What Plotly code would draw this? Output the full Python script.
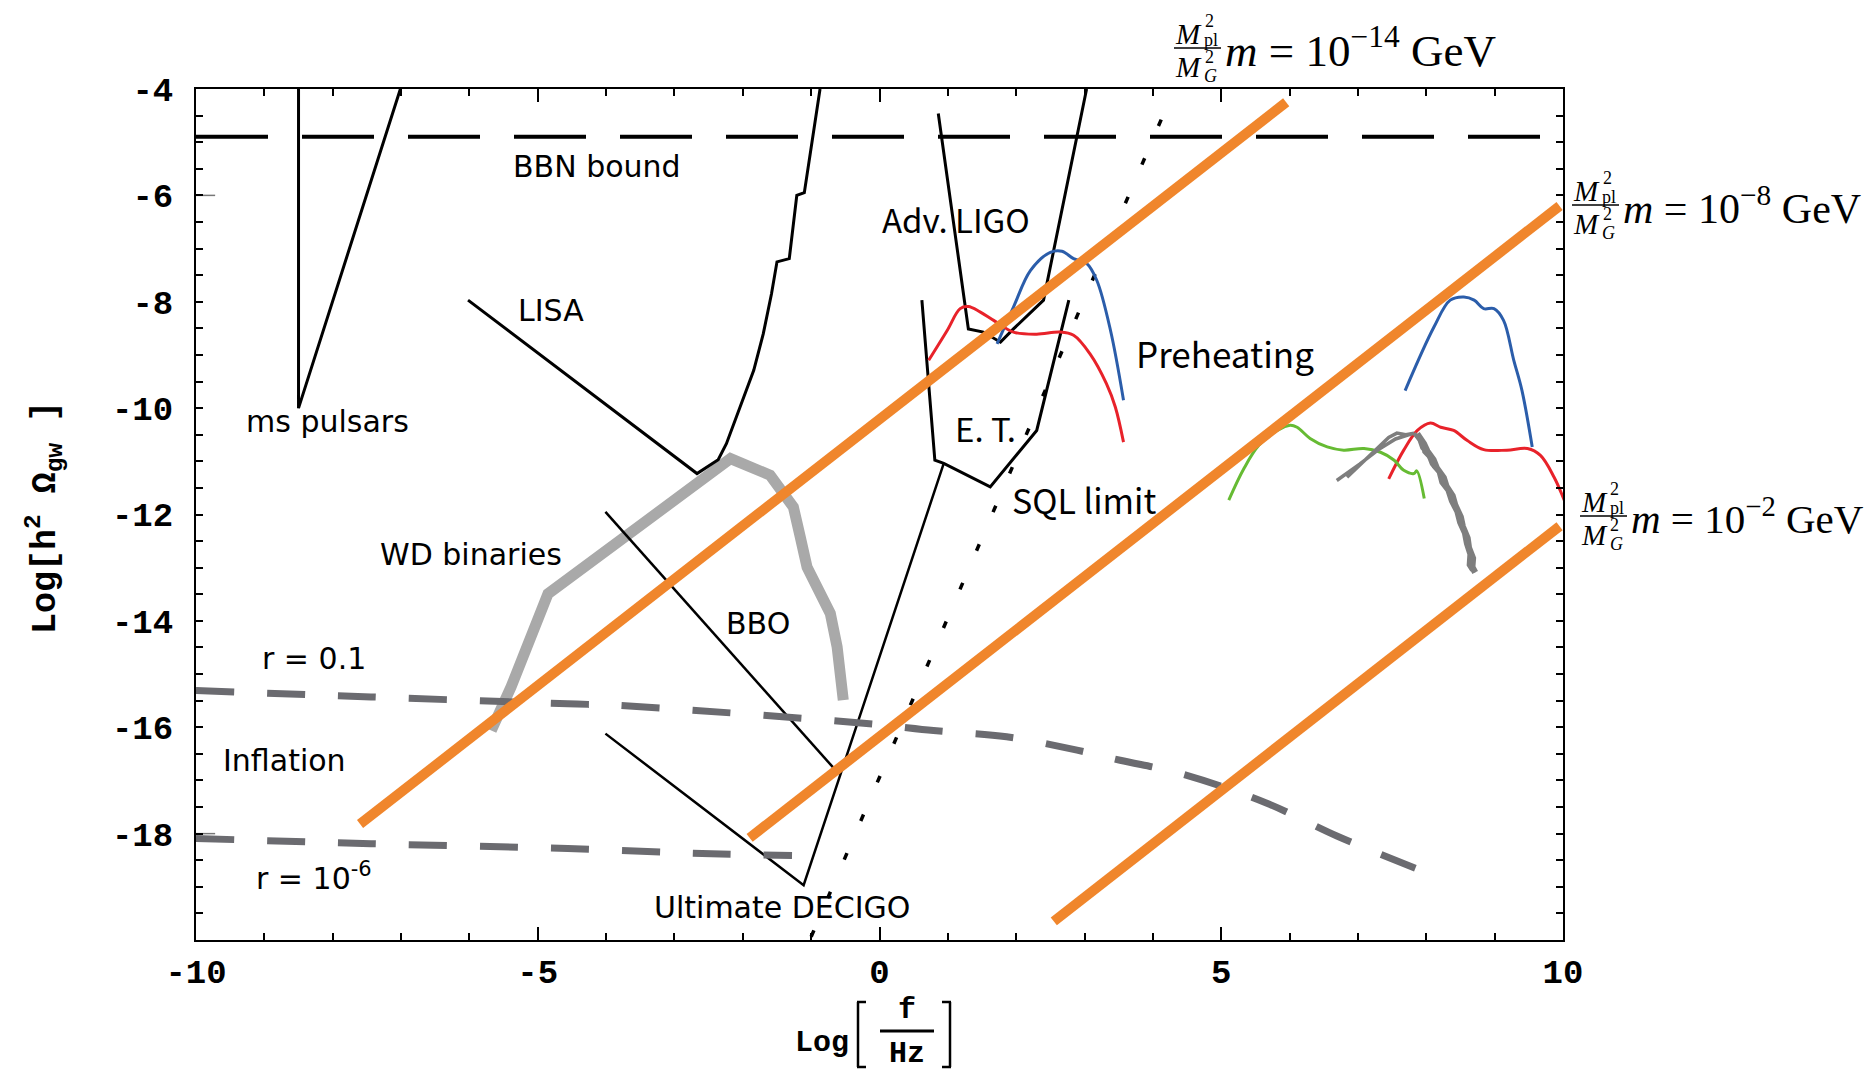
import plotly.graph_objects as go

# ---------------- data ----------------
x_ticks = [-10, -5, 0, 5, 10]
x_ticklabels = ['-10', '-5', '0', '5', '10']
y_ticks = [-4, -6, -8, -10, -12, -14, -16, -18]
y_ticklabels = ['-4', '-6', '-8', '-10', '-12', '-14', '-16', '-18']

bbn_x = [-10, 10]
bbn_y = [-4.9, -4.9]

pulsar_x = [-8.5, -8.5, -7.01]
pulsar_y = [-3.9, -10.0, -4.0]

lisa_x = [-6.02, -2.67, -2.36, -2.24, -2.04, -1.84, -1.70, -1.58, -1.50, -1.32, -1.21, -1.10, -0.87]
lisa_y = [-7.97, -11.23, -10.97, -10.67, -9.98, -9.29, -8.60, -7.85, -7.25, -7.19, -6.00, -5.95, -4.00]

aligo_x = [0.86, 1.30, 1.52, 1.77, 1.96, 2.40, 3.03]
aligo_y = [-4.46, -8.51, -8.57, -8.76, -8.51, -7.97, -4.00]

et_x = [0.62, 0.81, 0.94, 1.62, 2.30, 2.77]
et_y = [-7.97, -10.98, -11.04, -11.48, -10.42, -7.97]

decigo_x = [-4.01, -1.11, 0.94]
decigo_y = [-16.12, -18.97, -11.04]

bbo_x = [-4.01, -0.62]
bbo_y = [-11.95, -16.84]

sql_x = [-1.0, 4.33]
sql_y = [-19.94, -3.95]

wd_x = [-5.68, -5.39, -4.85, -3.73, -2.62, -2.18, -1.60, -1.26, -1.16, -1.06, -0.72, -0.62, -0.53]
wd_y = [-16.06, -15.24, -13.49, -12.45, -11.42, -10.95, -11.26, -11.86, -12.42, -12.99, -13.86, -14.49, -15.49]

infl_r01_x = [-10.0, -7.44, -4.56, -3.82, -0.19, 0.79, 1.86, 2.89, 3.52, 4.43, 5.65, 6.70, 7.84]
infl_r01_y = [-15.31, -15.43, -15.56, -15.59, -15.93, -16.06, -16.18, -16.43, -16.62, -16.88, -17.42, -18.05, -18.65]

infl_r6_x = [-10.0, -7.44, -4.56, -2.46, -1.28]
infl_r6_y = [-18.09, -18.19, -18.28, -18.38, -18.41]

blue1_x = [1.72, 1.96, 2.21, 2.50, 2.67, 2.84, 3.03, 3.18, 3.38, 3.57]
blue1_y = [-8.79, -8.10, -7.41, -7.07, -7.05, -7.19, -7.28, -7.60, -8.54, -9.85]

red1_x = [0.72, 0.99, 1.18, 1.30, 1.47, 1.67, 1.96, 2.30, 2.64, 2.84, 3.08, 3.32, 3.45, 3.57]
red1_y = [-9.10, -8.54, -8.13, -8.09, -8.19, -8.35, -8.57, -8.61, -8.57, -8.63, -8.98, -9.54, -9.98, -10.64]

blue2_x = [7.69, 8.11, 8.35, 8.55, 8.70, 8.84, 8.99, 9.13, 9.28, 9.40, 9.55]
blue2_y = [-9.67, -8.48, -7.97, -7.91, -7.97, -8.13, -8.13, -8.35, -9.10, -9.67, -10.73]

red2_x = [7.45, 7.67, 7.87, 8.06, 8.21, 8.40, 8.60, 8.84, 9.18, 9.48, 9.67, 9.87, 10.04]
red2_y = [-11.33, -10.79, -10.42, -10.28, -10.36, -10.42, -10.61, -10.78, -10.79, -10.76, -10.89, -11.30, -11.80]

green_x = [5.11, 5.33, 5.55, 5.82, 6.01, 6.11, 6.30, 6.55, 6.79, 7.09, 7.33, 7.53, 7.67, 7.82, 7.86, 7.97]
green_y = [-11.73, -11.14, -10.70, -10.42, -10.32, -10.36, -10.57, -10.73, -10.79, -10.76, -10.83, -10.98, -11.17, -11.23, -11.18, -11.70]

gray_loop_x = [6.84, 7.10, 7.45, 7.57, 7.70, 7.82, 7.55, 7.30, 7.03, 6.69]
gray_loop_y = [-11.30, -10.98, -10.55, -10.47, -10.50, -10.47, -10.58, -10.78, -11.05, -11.36]

gray_d1_x = [7.82, 7.90, 7.94, 8.03, 8.08, 8.18, 8.22, 8.31, 8.36, 8.44, 8.48, 8.55, 8.58, 8.63, 8.62, 8.67]
gray_d1_y = [-10.47, -10.60, -10.75, -10.88, -11.05, -11.20, -11.40, -11.55, -11.75, -11.95, -12.15, -12.35, -12.55, -12.75, -12.95, -13.05]
gray_d2_x = [7.88, 7.98, 8.03, 8.12, 8.17, 8.27, 8.31, 8.40, 8.44, 8.52, 8.55, 8.62, 8.64, 8.70, 8.69, 8.73]
gray_d2_y = [-10.47, -10.66, -10.80, -10.96, -11.12, -11.30, -11.46, -11.64, -11.82, -12.04, -12.22, -12.44, -12.62, -12.82, -12.98, -13.08]
gray_d3_x = [7.85, 7.96, 7.97, 8.09, 8.11, 8.24, 8.25, 8.37, 8.39, 8.49, 8.50, 8.59, 8.60, 8.67, 8.64, 8.70]
gray_d3_y = [-10.50, -10.70, -10.82, -10.98, -11.10, -11.28, -11.43, -11.62, -11.78, -12.00, -12.18, -12.40, -12.58, -12.80, -12.96, -13.10]

stray_x = [-10.0, -9.72]
stray_y = [[-6.0, -6.0], [-18.0, -18.0]]

orange_x = [[-7.60, 5.95], [-1.90, 9.95], [2.55, 9.95]]
orange_y = [[-17.82, -4.25], [-18.08, -6.20], [-19.65, -12.22]]
mass_exps = ['-14', '-8', '-2']

# ---------------- figure ----------------
OFF = 8  # page body margin of the html page
W, H = 1872, 1088
PW, PH = 1367, 851
L, T = 196 - OFF, 89 - OFF
R, B = W - L - PW, H - T - PH


def pp(fx, fy):
    """screen pixel position -> paper coords"""
    return (fx - OFF - L) / PW, (H - B - (fy - OFF)) / PH


fig = go.Figure()


def add_line(x, y, color, width, dash='solid', shape='linear'):
    fig.add_trace(go.Scatter(x=x, y=y, mode='lines',
                             line=dict(color=color, width=width, dash=dash, shape=shape),
                             hoverinfo='skip', showlegend=False))


# WD binaries (thick light gray)
add_line(wd_x, wd_y, '#A9A9A9', 11)
# detectors
add_line(bbn_x, bbn_y, 'black', 4, dash='72px,34px')
add_line(pulsar_x, pulsar_y, 'black', 3)
add_line(lisa_x, lisa_y, 'black', 3)
add_line(aligo_x, aligo_y, 'black', 3)
add_line(et_x, et_y, 'black', 3)
add_line(decigo_x, decigo_y, 'black', 2.5)
add_line(bbo_x, bbo_y, 'black', 2.5)
add_line(sql_x, sql_y, 'black', 3.5, dash='7px,35px')
for sy in stray_y:
    add_line(stray_x, sy, '#777777', 1.5)
# inflation
add_line(infl_r01_x, infl_r01_y, '#6B6B70', 7, dash='38px,33px', shape='spline')
add_line(infl_r6_x, infl_r6_y, '#6B6B70', 7, dash='38px,33px', shape='spline')
# preheating
add_line(blue1_x, blue1_y, '#2B5DAA', 3, shape='spline')
add_line(red1_x, red1_y, '#E8222A', 3, shape='spline')
add_line(blue2_x, blue2_y, '#2B5DAA', 3, shape='spline')
add_line(red2_x, red2_y, '#E8222A', 3, shape='spline')
add_line(green_x, green_y, '#66BB33', 3, shape='spline')
add_line(gray_loop_x, gray_loop_y, '#7E7E7E', 3.5)
add_line(gray_d1_x, gray_d1_y, '#7E7E7E', 4)
add_line(gray_d2_x, gray_d2_y, '#7E7E7E', 4)
add_line(gray_d3_x, gray_d3_y, '#7E7E7E', 4)
# massive graviton lines
for ox, oy in zip(orange_x, orange_y):
    add_line(ox, oy, '#F0862C', 10)

annotations = []
shapes = []

dj = 'DejaVu Sans'
nj = 'Noto Sans CJK JP'
labels = [
    ('BBN bound', -4.13, -5.46, dj, 30),
    ('LISA', -4.80, -8.16, dj, 30),
    ('ms pulsars', -8.07, -10.25, dj, 30),
    ('WD binaries', -5.98, -12.75, dj, 30),
    ('BBO', -1.78, -14.04, dj, 30),
    ('r = 0.1', -8.27, -14.71, dj, 30),
    ('Inflation', -8.70, -16.62, dj, 30),
    ('r = 10<sup>-6</sup>', -8.27, -18.80, dj, 30),
    ('Ultimate DECIGO', -1.42, -19.38, dj, 30),
    ('Adv. LIGO', 1.12, -6.45, nj, 33),
    ('E. T.', 1.55, -10.37, nj, 33),
    ('SQL limit', 2.99, -11.72, nj, 34),
    ('Preheating', 5.06, -8.95, nj, 35),
]
for txt, lx, ly, fam, sz in labels:
    annotations.append(dict(x=lx, y=ly, xref='x', yref='y', text=txt, showarrow=False,
                            xanchor='center', yanchor='middle',
                            font=dict(family=fam, size=sz, color='black')))

# mass labels: (bar left px, bar y px, main font size)
serif = 'Liberation Serif'
mass_pos = [(1174, 48, 45), (1572, 205, 42), (1580, 516, 41)]


def A(fx, fy, text, size, anchor='center'):
    xp, yp = pp(fx, fy)
    annotations.append(dict(x=xp, y=yp, xref='paper', yref='paper', text=text,
                            showarrow=False, xanchor=anchor, yanchor='middle',
                            font=dict(family=serif, size=size, color='black')))


for (bx, by, msz), ex in zip(mass_pos, mass_exps):
    A(bx + 14, by - 14, '<i>M</i>', 29)
    A(bx + 35, by - 27, '2', 18)
    A(bx + 37, by - 8, 'pl', 18)
    A(bx + 14, by + 19, '<i>M</i>', 29)
    A(bx + 35, by + 9, '2', 18)
    A(bx + 36, by + 28, '<i>G</i>', 18)
    x0p, yb = pp(bx, by)
    x1p, _ = pp(bx + 47, by)
    shapes.append(dict(type='line', xref='paper', yref='paper', x0=x0p, x1=x1p, y0=yb, y1=yb,
                       line=dict(color='black', width=1.5)))
    A(bx + 49, by, '<i>m</i> = 10<sup>' + ex.replace('-', '−') + '</sup> GeV', msz, anchor='left')

# axis titles
mono = 'Liberation Mono'
xp, yp = pp(44, 518)
annotations.append(dict(x=xp, y=yp, xref='paper', yref='paper', textangle=-90,
                        text='Log[h<sup>2</sup> Ω<sub>gw</sub> ]', showarrow=False,
                        xanchor='center', yanchor='middle',
                        font=dict(family=mono, size=35, color='black', weight='bold')))


def M(fx, fy, text, size, weight='bold'):
    a, b = pp(fx, fy)
    annotations.append(dict(x=a, y=b, xref='paper', yref='paper', text=text, showarrow=False,
                            xanchor='center', yanchor='middle',
                            font=dict(family=mono, size=size, color='black', weight=weight)))


def seg(x0, y0, x1, y1, width):
    a0, b0 = pp(x0, y0)
    a1, b1 = pp(x1, y1)
    shapes.append(dict(type='line', xref='paper', yref='paper', x0=a0, x1=a1, y0=b0, y1=b1,
                       line=dict(color='black', width=width)))


M(822, 1043, 'Log', 30)
M(907, 1010, 'f', 30)
M(907, 1054, 'Hz', 30)
# fraction bar
seg(880, 1031, 934, 1031, 3)
# stretched brackets [ ]
seg(858, 1002, 858, 1067, 2.5)
seg(857, 1002, 866, 1002, 2.5)
seg(857, 1067, 866, 1067, 2.5)
seg(950, 1002, 950, 1067, 2.5)
seg(942, 1002, 951, 1002, 2.5)
seg(942, 1067, 951, 1067, 2.5)

tickfont = dict(family=mono, size=34, color='black', weight='bold')
fig.update_layout(
    width=W, height=H,
    margin=dict(l=L, r=R, t=T, b=B),
    paper_bgcolor='white', plot_bgcolor='white',
    showlegend=False,
    annotations=annotations, shapes=shapes,
    xaxis=dict(range=[-10, 10], tickvals=x_ticks, ticktext=x_ticklabels,
               ticks='inside', ticklen=13, tickwidth=1.5, tickcolor='black',
               minor=dict(dtick=1, ticklen=7, tickwidth=1.5, ticks='inside', tickcolor='black'),
               showline=True, linewidth=2, linecolor='black', mirror='ticks',
               showgrid=False, zeroline=False, tickfont=tickfont, ticklabelstandoff=0),
    yaxis=dict(range=[-20, -4], tickvals=y_ticks, ticktext=y_ticklabels,
               ticks='inside', ticklen=7, tickwidth=1.5, tickcolor='black',
               minor=dict(dtick=0.5, ticklen=7, tickwidth=1.5, ticks='inside', tickcolor='black'),
               showline=True, linewidth=2, linecolor='black', mirror='ticks',
               showgrid=False, zeroline=False, tickfont=tickfont, ticklabelstandoff=14),
)

fig.write_html('out.html')
